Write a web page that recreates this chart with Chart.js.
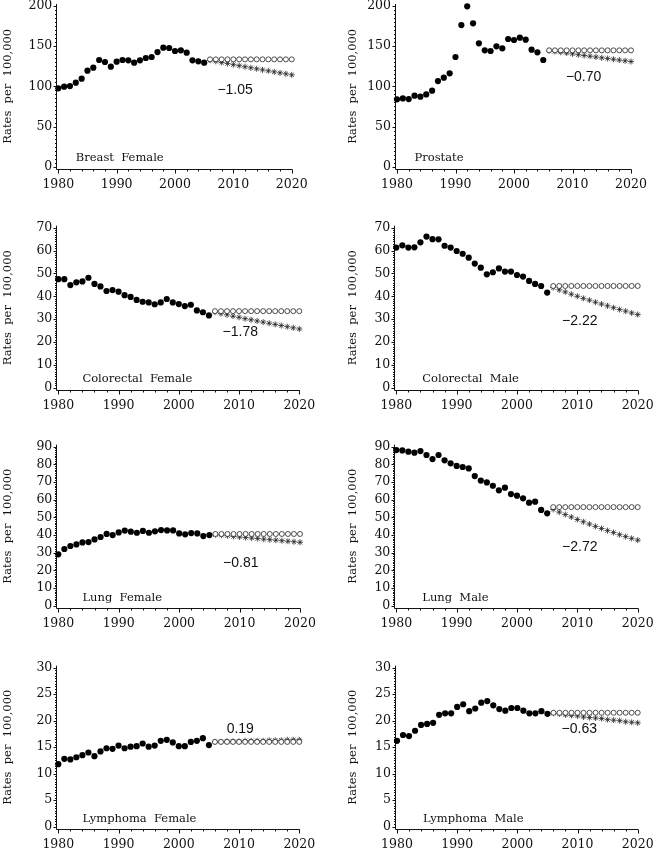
<!DOCTYPE html>
<html>
<head>
<meta charset="utf-8">
<script src="https://cdn.jsdelivr.net/npm/chart.js@4.4.1/dist/chart.umd.min.js"></script>
<style>
  html, body { margin: 0; padding: 0; background: #fff; }
  body { position: relative; width: 654px; height: 853px; overflow: hidden; }
  canvas { position: absolute; }
</style>
</head>
<body>
<canvas id="c1"></canvas>
<canvas id="c2"></canvas>
<canvas id="c3"></canvas>
<canvas id="c4"></canvas>
<canvas id="c5"></canvas>
<canvas id="c6"></canvas>
<canvas id="c7"></canvas>
<canvas id="c8"></canvas>
<script>
// observed years and projection years
const obsYears = [1980, 1981, 1982, 1983, 1984, 1985, 1986, 1987, 1988, 1989, 1990, 1991, 1992,
                  1993, 1994, 1995, 1996, 1997, 1998, 1999, 2000, 2001, 2002, 2003, 2004, 2005];
const projYears = [2006, 2007, 2008, 2009, 2010, 2011, 2012, 2013, 2014, 2015, 2016, 2017, 2018, 2019, 2020];

const xTicks = [1980, 1990, 2000, 2010, 2020];
const ticks200 = [0, 50, 100, 150, 200];
const ticks70 = [0, 10, 20, 30, 40, 50, 60, 70];
const ticks90 = [0, 10, 20, 30, 40, 50, 60, 70, 80, 90];
const ticks30 = [0, 5, 10, 15, 20, 25, 30];

// Breast Female
const breastFemaleObs = [97.5, 99.6, 100.4, 104.6, 109.5, 119.5, 123.2, 132.8, 130.3, 124.5, 130.7, 132.8, 132.4,
                         129.5, 132.4, 135.3, 136.5, 142.7, 148.1, 147.7, 144.0, 144.8, 141.9, 132.4, 131.1, 129.5];
const breastFemaleFlat = [133.6, 133.6, 133.6, 133.6, 133.6, 133.6, 133.6, 133.6, 133.6, 133.6, 133.6, 133.6, 133.6, 133.6, 133.6];
const breastFemaleTrend = [132.5, 131.1, 129.7, 128.4, 127.0, 125.7, 124.4, 123.1, 121.8, 120.5, 119.3, 118.0, 116.8, 115.6, 114.3];

// Prostate
const prostateObs = [83.8, 85.0, 84.2, 88.4, 87.1, 90.0, 94.6, 106.6, 110.8, 116.2, 136.5, 176.3, 199.6,
                     178.4, 153.5, 144.8, 144.0, 149.8, 147.3, 158.9, 157.7, 160.6, 158.1, 145.6, 142.3, 132.8];
const prostateFlat = [144.8, 144.8, 144.8, 144.8, 144.8, 144.8, 144.8, 144.8, 144.8, 144.8, 144.8, 144.8, 144.8, 144.8, 144.8];
const prostateTrend = [144.4, 143.4, 142.4, 141.4, 140.4, 139.4, 138.4, 137.5, 136.5, 135.5, 134.6, 133.7, 132.7, 131.8, 130.9];

// Colorectal Female
const colorectalFemaleObs = [47.5, 47.5, 44.9, 46.1, 46.5, 48.1, 45.4, 44.3, 42.3, 42.7, 42.0, 40.5, 39.7,
                             38.4, 37.6, 37.3, 36.5, 37.3, 38.8, 37.3, 36.6, 35.7, 36.3, 33.8, 33.0, 31.6];
const colorectalFemaleFlat = [33.5, 33.5, 33.5, 33.5, 33.5, 33.5, 33.5, 33.5, 33.5, 33.5, 33.5, 33.5, 33.5, 33.5, 33.5];
const colorectalFemaleTrend = [33.0, 32.4, 31.9, 31.3, 30.8, 30.2, 29.7, 29.2, 28.7, 28.2, 27.7, 27.2, 26.7, 26.2, 25.7];

// Colorectal Male
const colorectalMaleObs = [61.3, 62.3, 61.3, 61.4, 63.6, 66.1, 65.0, 64.9, 62.1, 61.3, 59.8, 58.6, 56.9,
                           54.3, 52.5, 49.6, 50.5, 52.2, 50.8, 50.8, 49.3, 48.6, 46.7, 45.4, 44.5, 41.6];
const colorectalMaleFlat = [44.5, 44.5, 44.5, 44.5, 44.5, 44.5, 44.5, 44.5, 44.5, 44.5, 44.5, 44.5, 44.5, 44.5, 44.5];
const colorectalMaleTrend = [43.8, 42.8, 41.9, 40.9, 40.0, 39.1, 38.3, 37.4, 36.6, 35.8, 35.0, 34.2, 33.5, 32.7, 32.0];

// Lung Female
const lungFemaleObs = [29.1, 32.1, 33.8, 34.7, 35.8, 36.0, 37.5, 38.9, 40.6, 40.0, 41.5, 42.5, 41.9,
                       41.3, 42.3, 41.3, 42.1, 42.8, 42.6, 42.6, 40.9, 40.4, 41.1, 40.9, 39.4, 40.0];
const lungFemaleFlat = [40.6, 40.6, 40.6, 40.6, 40.6, 40.6, 40.6, 40.6, 40.6, 40.6, 40.6, 40.6, 40.6, 40.6, 40.6];
const lungFemaleTrend = [40.2, 39.9, 39.6, 39.2, 38.9, 38.6, 38.3, 38.0, 37.7, 37.4, 37.1, 36.8, 36.5, 36.2, 35.9];

// Lung Male
const lungMaleObs = [88.1, 87.9, 87.2, 86.6, 87.5, 85.3, 83.0, 85.3, 82.3, 80.6, 79.1, 78.5, 77.7,
                     73.4, 70.8, 69.8, 67.9, 65.3, 66.8, 63.2, 62.3, 60.8, 58.3, 58.9, 54.2, 52.3];
const lungMaleFlat = [55.8, 55.8, 55.8, 55.8, 55.8, 55.8, 55.8, 55.8, 55.8, 55.8, 55.8, 55.8, 55.8, 55.8, 55.8];
const lungMaleTrend = [54.5, 53.0, 51.6, 50.2, 48.8, 47.5, 46.2, 44.9, 43.7, 42.5, 41.4, 40.2, 39.1, 38.1, 37.1];

// Lymphoma Female
const lymphomaFemaleObs = [11.8, 12.8, 12.7, 13.1, 13.5, 14.0, 13.3, 14.2, 14.8, 14.7, 15.3, 14.8, 15.1,
                           15.2, 15.7, 15.1, 15.3, 16.2, 16.4, 15.9, 15.2, 15.2, 16.0, 16.2, 16.7, 15.4];
const lymphomaFemaleFlat = [16.0, 16.0, 16.0, 16.0, 16.0, 16.0, 16.0, 16.0, 16.0, 16.0, 16.0, 16.0, 16.0, 16.0, 16.0];
const lymphomaFemaleTrend = [16.0, 16.0, 16.1, 16.1, 16.1, 16.2, 16.2, 16.2, 16.2, 16.3, 16.3, 16.3, 16.4, 16.4, 16.4];

// Lymphoma Male
const lymphomaMaleObs = [16.2, 17.3, 17.1, 18.1, 19.2, 19.4, 19.6, 21.1, 21.4, 21.4, 22.6, 23.1, 21.8,
                         22.3, 23.4, 23.7, 22.9, 22.2, 21.9, 22.4, 22.4, 21.9, 21.4, 21.4, 21.8, 21.3];
const lymphomaMaleFlat = [21.5, 21.5, 21.5, 21.5, 21.5, 21.5, 21.5, 21.5, 21.5, 21.5, 21.5, 21.5, 21.5, 21.5, 21.5];
const lymphomaMaleTrend = [21.4, 21.3, 21.1, 21.0, 20.9, 20.7, 20.6, 20.5, 20.4, 20.2, 20.1, 20.0, 19.8, 19.7, 19.6];

const SERIF = '"DejaVu Serif", serif';
const SANS = '"Liberation Sans", Arial, sans-serif';
const INK = '#111';

// page geometry: canvas box and the plot area inside it
const panels = [
  { id: 'c1', box: [0, 0, 327, 200],     area: [58.3, 6, 291.7, 166.7],    yTicks: ticks200, yMax: 200, minor: 5,
    obs: breastFemaleObs, flat: breastFemaleFlat, trend: breastFemaleTrend,
    label: 'Breast  Female', labelAt: [1983.0, 10.8], note: '\u22121.05', noteAt: [2010.3, 95.5] },
  { id: 'c2', box: [327, 0, 654, 200],   area: [397, 6, 631, 166.7],       yTicks: ticks200, yMax: 200, minor: 5,
    obs: prostateObs, flat: prostateFlat, trend: prostateTrend,
    label: 'Prostate', labelAt: [1983.0, 10.4], note: '\u22120.70', noteAt: [2011.9, 112] },
  { id: 'c3', box: [0, 200, 327, 415],   area: [58.3, 227.7, 299.3, 387.7], yTicks: ticks70, yMax: 70, minor: 1,
    obs: colorectalFemaleObs, flat: colorectalFemaleFlat, trend: colorectalFemaleTrend,
    label: 'Colorectal  Female', labelAt: [1984.0, 3.8], note: '\u22121.78', noteAt: [2010.2, 24.5] },
  { id: 'c4', box: [327, 200, 654, 415], area: [396.3, 227.7, 637.7, 387.7], yTicks: ticks70, yMax: 70, minor: 1,
    obs: colorectalMaleObs, flat: colorectalMaleFlat, trend: colorectalMaleTrend,
    label: 'Colorectal  Male', labelAt: [1984.3, 3.8], note: '\u22122.22', noteAt: [2010.4, 29.3] },
  { id: 'c5', box: [0, 415, 327, 632],   area: [58.3, 446.7, 300, 605.7],  yTicks: ticks90, yMax: 90, minor: 1,
    obs: lungFemaleObs, flat: lungFemaleFlat, trend: lungFemaleTrend,
    label: 'Lung  Female', labelAt: [1984.0, 4.5], note: '\u22120.81', noteAt: [2010.2, 24.3] },
  { id: 'c6', box: [327, 415, 654, 632], area: [396.3, 446.7, 637.7, 605.7], yTicks: ticks90, yMax: 90, minor: 1,
    obs: lungMaleObs, flat: lungMaleFlat, trend: lungMaleTrend,
    label: 'Lung  Male', labelAt: [1984.3, 4.5], note: '\u22122.72', noteAt: [2010.4, 33.4] },
  { id: 'c7', box: [0, 632, 327, 853],   area: [58.3, 667.7, 299.3, 826.7], yTicks: ticks30, yMax: 30, minor: 0.5,
    obs: lymphomaFemaleObs, flat: lymphomaFemaleFlat, trend: lymphomaFemaleTrend,
    label: 'Lymphoma  Female', labelAt: [1984.0, 1.45], note: '0.19', noteAt: [2010.2, 18.4] },
  { id: 'c8', box: [327, 632, 654, 853], area: [397, 667.7, 637.7, 826.7], yTicks: ticks30, yMax: 30, minor: 0.5,
    obs: lymphomaMaleObs, flat: lymphomaMaleFlat, trend: lymphomaMaleTrend,
    label: 'Lymphoma  Male', labelAt: [1984.3, 1.45], note: '\u22120.63', noteAt: [2010.3, 18.4] }
];

// axis lines, tick marks, panel caption and slope note
const decor = {
  id: 'decor',
  beforeDatasetsDraw(chart, args, o) {
    const { ctx, chartArea: a, scales: { x, y } } = chart;
    ctx.save();
    ctx.strokeStyle = INK;
    ctx.lineWidth = 1;
    const ax = Math.round(a.left - 2) + 0.5;
    const ay = Math.round(a.bottom + 2) + 0.5;
    ctx.beginPath();
    ctx.moveTo(ax, a.top - 2);
    ctx.lineTo(ax, ay);
    ctx.lineTo(x.getPixelForValue(2020) + 0.5, ay);
    // y minor / major ticks
    for (let v = 0; v <= o.yMax + 1e-6; v += o.minor) {
      const py = Math.round(y.getPixelForValue(v)) + 0.5;
      const major = o.yTicks.some(t => Math.abs(t - v) < 1e-6);
      ctx.moveTo(ax, py);
      ctx.lineTo(ax - (major ? 3 : 1.5), py);
    }
    // x ticks every 2 years
    for (let yr = 1980; yr <= 2020; yr += 2) {
      const px = Math.round(x.getPixelForValue(yr)) + 0.5;
      ctx.moveTo(px, ay);
      ctx.lineTo(px, ay + (yr % 10 === 0 ? 4 : 2));
    }
    ctx.stroke();
    ctx.restore();
  },
  afterDatasetsDraw(chart, args, o) {
    const { ctx, scales: { x, y } } = chart;
    ctx.save();
    ctx.fillStyle = INK;
    ctx.textBaseline = 'middle';
    ctx.font = '11.5px ' + SERIF;
    ctx.textAlign = 'left';
    ctx.fillText(o.label, x.getPixelForValue(o.labelAt[0]), y.getPixelForValue(o.labelAt[1]));
    ctx.font = '14px ' + SANS;
    ctx.textAlign = 'center';
    ctx.fillText(o.note, x.getPixelForValue(o.noteAt[0]), y.getPixelForValue(o.noteAt[1]));
    ctx.restore();
  }
};

const pts = (xs, ys) => xs.map((v, i) => ({ x: v, y: ys[i] }));

panels.forEach(p => {
  const [bx0, by0, bx1, by1] = p.box;
  const [L, T, R, B] = p.area;
  const cv = document.getElementById(p.id);
  cv.width = bx1 - bx0;
  cv.height = by1 - by0;
  cv.style.left = bx0 + 'px';
  cv.style.top = by0 + 'px';

  const titleCenter = bx0 < 300 ? 8 : 353;
  const padLeft = titleCenter - bx0 - 6.9;
  const yWidth = L - bx0 - padLeft;
  const xHeight = 26;

  new Chart(cv, {
    type: 'scatter',
    data: {
      datasets: [{
        data: pts(obsYears, p.obs),
        pointStyle: 'circle',
        pointRadius: 3.1,
        backgroundColor: '#000',
        borderColor: '#000',
        borderWidth: 0,
        clip: false
      }, {
        data: pts(projYears, p.flat),
        pointStyle: 'circle',
        pointRadius: 2.5,
        backgroundColor: '#fff',
        borderColor: '#222',
        borderWidth: 0.8,
        clip: false
      }, {
        data: pts(projYears, p.trend),
        pointStyle: 'star',
        pointRadius: 3,
        backgroundColor: '#222',
        borderColor: '#222',
        borderWidth: 0.8,
        clip: false
      }]
    },
    options: {
      responsive: false,
      animation: false,
      events: [],
      layout: {
        padding: {
          left: padLeft,
          top: T - by0,
          right: bx1 - R,
          bottom: (by1 - B) - xHeight
        }
      },
      plugins: {
        legend: { display: false },
        tooltip: { enabled: false },
        decor: { yMax: p.yMax, minor: p.minor, yTicks: p.yTicks,
                 label: p.label, labelAt: p.labelAt, note: p.note, noteAt: p.noteAt }
      },
      scales: {
        x: {
          type: 'linear',
          min: 1980,
          max: 2020,
          afterBuildTicks: s => { s.ticks = xTicks.map(v => ({ value: v })); },
          afterFit: s => { s.height = xHeight; s.paddingLeft = 0; s.paddingRight = 0; },
          grid: { display: false, drawTicks: false },
          border: { display: false },
          ticks: {
            padding: 11,
            maxRotation: 0,
            autoSkip: false,
            color: INK,
            font: { family: SERIF, size: 12.5 },
            callback: v => String(v)
          }
        },
        y: {
          min: 0,
          max: p.yMax,
          afterBuildTicks: s => { s.ticks = p.yTicks.map(v => ({ value: v })); },
          afterFit: s => { s.width = yWidth; s.paddingTop = 0; s.paddingBottom = 0; },
          grid: { display: false, drawTicks: false },
          border: { display: false },
          title: {
            display: true,
            text: 'Rates  per  100,000',
            color: INK,
            padding: 0,
            font: { family: SERIF, size: 11.5 }
          },
          ticks: {
            padding: 6,
            autoSkip: false,
            color: INK,
            font: { family: SERIF, size: 12.5 },
            callback: v => String(v)
          }
        }
      }
    },
    plugins: [decor]
  });
});
</script>
</body>
</html>
